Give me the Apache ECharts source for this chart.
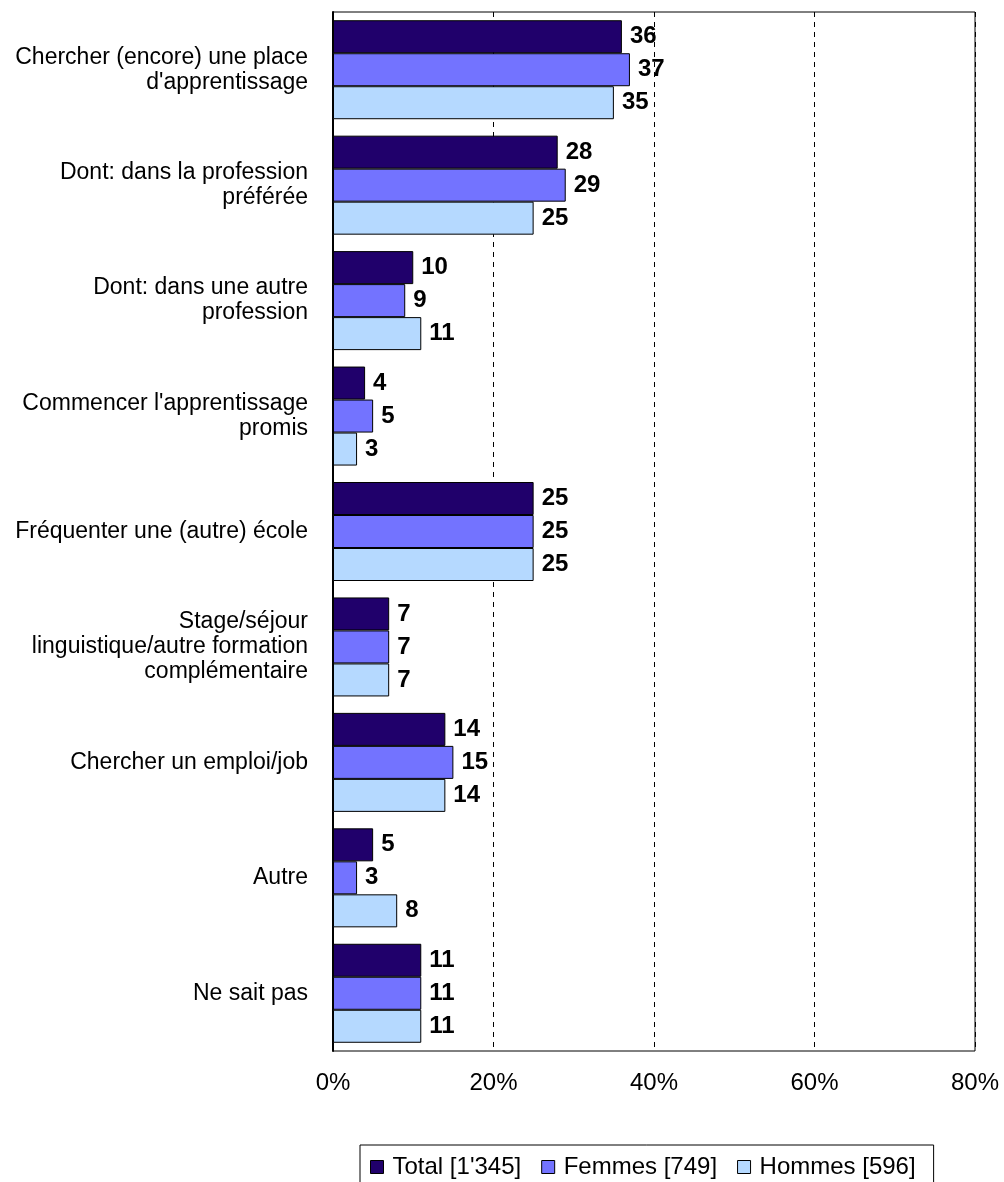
<!DOCTYPE html>
<html><head><meta charset="utf-8">
<script src="https://cdn.jsdelivr.net/npm/echarts@6/dist/echarts.min.js"></script>
<style>html,body{margin:0;padding:0;background:#fff}#c{width:1004px;height:1182px}</style>
</head><body><div id="c"></div>
<script>
const categories = [
  "Chercher (encore) une place\nd'apprentissage",
  "Dont: dans la profession\npréférée",
  "Dont: dans une autre\nprofession",
  "Commencer l'apprentissage\npromis",
  "Fréquenter une (autre) école",
  "Stage/séjour\nlinguistique/autre formation\ncomplémentaire",
  "Chercher un emploi/job",
  "Autre",
  "Ne sait pas"
];
const seriesNames = ["Total [1'345]", "Femmes [749]", "Hommes [596]"];
const totalValues = [36, 28, 10, 4, 25, 7, 14, 5, 11];
const femmesValues = [37, 29, 9, 5, 25, 7, 15, 3, 11];
const hommesValues = [35, 25, 11, 3, 25, 7, 14, 8, 11];
const xTicks = [0, 20, 40, 60, 80];
const colors = ["#20006B", "#7373FF", "#B5D9FF"];

const chart = echarts.init(document.getElementById('c'));
const font = 'Arial, "Liberation Sans", sans-serif';
const mk = (name, data, color) => ({
  name, type: 'bar', data,
  barWidth: 33, barGap: '0%',
  itemStyle: { color, borderColor: '#000', borderWidth: 1 },
  label: { show: true, position: 'right', distance: 8, color: '#000', fontWeight: 'bold', fontSize: 24, fontFamily: font },
  emphasis: { disabled: true }
});
chart.setOption({
  animation: false,
  grid: { left: 333, right: 29, top: 12, bottom: 131, show: true, borderColor: '#000', borderWidth: 1, containLabel: false },
  legend: {
    top: 1145, left: 360,
    itemWidth: 13, itemHeight: 13, itemGap: 20,
    borderColor: '#000', borderWidth: 1, padding: [10, 18, 14, 10],
    textStyle: { fontSize: 24, fontFamily: font, color: '#000', padding: [0, 0, 0, 4] },
    data: seriesNames.map((n) => ({ name: n, icon: 'rect', itemStyle: { borderColor: '#000', borderWidth: 1 } }))
  },
  xAxis: {
    type: 'value', min: xTicks[0], max: xTicks[xTicks.length - 1], interval: xTicks[1] - xTicks[0],
    axisLine: { show: false }, axisTick: { show: false },
    splitLine: { show: true, lineStyle: { color: '#000', type: [5, 5], width: 1 } },
    axisLabel: { formatter: '{value}%', fontSize: 24, fontFamily: font, color: '#000', margin: 20 }
  },
  yAxis: {
    type: 'category', data: categories, inverse: true,
    axisLine: { show: true, lineStyle: { color: '#000', width: 2 } },
    axisTick: { show: false },
    axisLabel: { fontSize: 23, fontFamily: font, color: '#000', margin: 25, lineHeight: 25, align: 'right', padding: [8, 0, 0, 0] }
  },
  series: [
    mk(seriesNames[0], totalValues, colors[0]),
    mk(seriesNames[1], femmesValues, colors[1]),
    mk(seriesNames[2], hommesValues, colors[2])
  ]
});
</script></body></html>
